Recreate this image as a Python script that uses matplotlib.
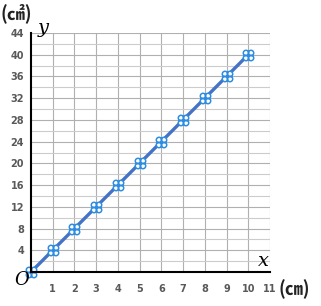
import matplotlib
matplotlib.use('Agg')
import matplotlib.pyplot as plt
from matplotlib.path import Path

# side length (cm) vs area-ish value (cm2)
xVals = [0, 1, 2, 3, 4, 5, 6, 7, 8, 9, 10]
yVals = [0, 4, 8, 12, 16, 20, 24, 28, 32, 36, 40]
xTicks = [1, 2, 3, 4, 5, 6, 7, 8, 9, 10, 11]
yTicks = [4, 8, 12, 16, 20, 24, 28, 32, 36, 40, 44]

# clover marker: four little circles
circles = [Path.circle((dx, dy), 0.45) for dx in (-0.4, 0.4) for dy in (-0.4, 0.4)]
clover = Path.make_compound_path(*circles)

fig = plt.figure(figsize=(3.21, 3.06), dpi=100)
ax = fig.add_axes([31/321, 34/306, 239/321, 239/306])

# grid
for gx in range(1, 12):
	ax.axvline(gx, color='#b0b0b0', lw=0.8, zorder=1)
for gy in range(2, 45, 2):
	ax.axhline(gy, color='#cccccc' if gy % 4 else '#b0b0b0', lw=0.8, zorder=1)

ax.plot(xVals, yVals, color='#4472c4', lw=2.4, zorder=3, clip_on=False)
ax.plot(xVals, yVals, linestyle='None', marker=clover, markersize=7.5,
	markerfacecolor='white', markeredgecolor='#2e8de0', markeredgewidth=1.1, zorder=4, clip_on=False)

ax.set_xlim(0, 11)
ax.set_ylim(0, 44)
ax.set_xticks(xTicks)
ax.set_yticks(yTicks)
ax.tick_params(length=0, labelsize=7, labelcolor='#595959', pad=9)
for lab in ax.get_xticklabels() + ax.get_yticklabels():
	lab.set_fontweight('bold')
ax.tick_params(axis='y', pad=5)

for side in ['top', 'right']:
	ax.spines[side].set_visible(False)
for side in ['left', 'bottom']:
	ax.spines[side].set_linewidth(1.5)
	ax.spines[side].set_color('black')
	ax.spines[side].set_zorder(5)

cjk = ['Noto Sans CJK JP', 'DejaVu Sans']
fig.text(0/321, 1 - 13/306, '(㎠)', family=cjk, fontsize=13, fontweight='bold', va='center', ha='left', color='#222222')
fig.text(279/321, 1 - 289/306, '(㎝)', family=cjk, fontsize=13, fontweight='bold', va='center', ha='left', color='#222222')
fig.text(43/321, 1 - 28/306, 'y', family='DejaVu Serif', style='italic', fontsize=14, va='center', ha='center')
fig.text(263/321, 1 - 261/306, 'x', family='DejaVu Serif', style='italic', fontsize=14, va='center', ha='center')
fig.text(22/321, 1 - 280/306, 'O', family='DejaVu Serif', style='italic', fontsize=13, va='center', ha='center')

fig.savefig('out.png', dpi=100)
